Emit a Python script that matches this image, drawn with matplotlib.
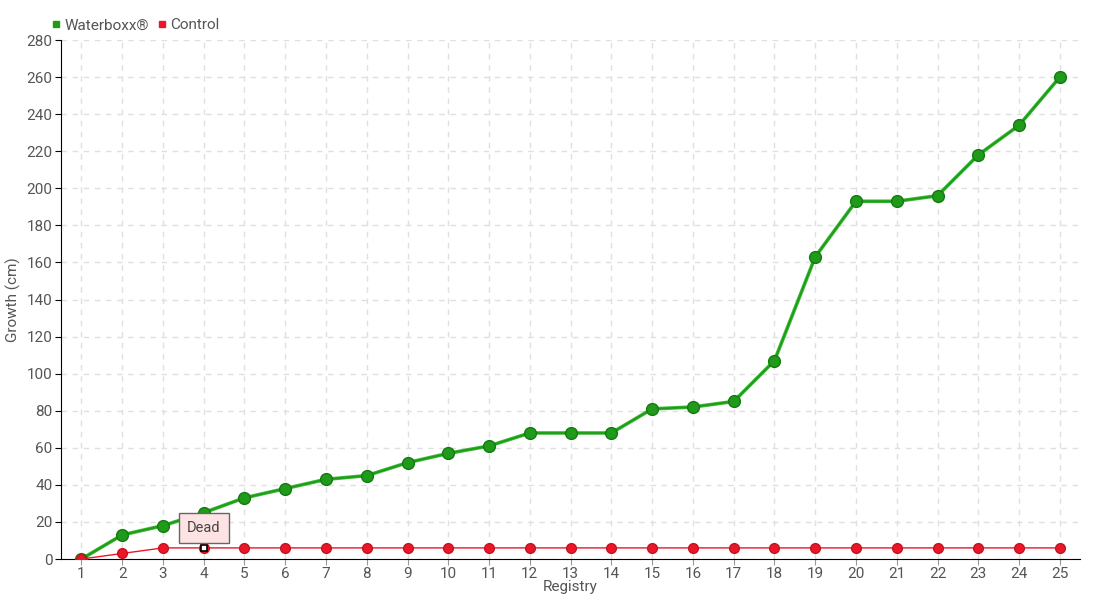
import numpy as np
import matplotlib.pyplot as plt
from matplotlib.lines import Line2D

plt.rcParams['font.family'] = ['Roboto', 'DejaVu Sans']

registry = list(range(1, 26))
waterboxx = [0, 13, 18, 25, 33, 38, 43, 45, 52, 57, 61, 68, 68, 68, 81, 82, 85,
             107, 163, 193, 193, 196, 218, 234, 260]
control = [0, 3, 6, 6, 6, 6, 6, 6, 6, 6, 6, 6, 6, 6, 6, 6, 6, 6, 6, 6, 6, 6, 6, 6, 6]
dead_at = 4

green = '#1e9c14'
red = '#e8182a'
txt = '#555555'

fig = plt.figure(figsize=(11, 6), dpi=100)
ax = fig.add_axes([0.0555, 0.0683, 0.9265, 0.865])

ax.plot(registry, waterboxx, color='#3cb83a', lw=2.6, zorder=3)
ax.plot(registry, waterboxx, color=green, lw=1.3, marker='o', ms=8.5,
        markerfacecolor='#1f9a1a', markeredgecolor='#137a10', markeredgewidth=1, zorder=4)
ax.plot(registry, control, color=red, lw=1, marker='o', ms=7,
        markerfacecolor=red, markeredgecolor='#c8101e', zorder=5)

# dead marker
i = registry.index(dead_at)
ax.plot(dead_at, control[i], marker='s', ms=4.5, markerfacecolor='white',
        markeredgecolor='black', markeredgewidth=1.2, zorder=6)
ax.annotate('Dead', xy=(dead_at, control[i]), xytext=(0, 14.5), textcoords='offset points',
            ha='center', va='center', fontsize=10.5, color='#444444',
            bbox=dict(boxstyle='square,pad=0.55', fc='#fde3e3', ec='#666666', lw=1),
            zorder=7)

ax.set_xlim(0.5, 25.5)
ax.set_ylim(0, 280)
ax.set_xticks(registry)
ax.set_yticks(np.arange(0, 281, 20))
ax.grid(True, color='#e0e0e0', linestyle=(0, (4, 4)), lw=1)
ax.set_axisbelow(True)
for s in ['top', 'right']:
    ax.spines[s].set_visible(False)
ax.spines['left'].set_color('black')
ax.spines['bottom'].set_color('black')
ax.tick_params(axis='both', colors=txt, labelsize=11, length=4, pad=2)
ax.tick_params(axis='x', color='#999999')
ax.tick_params(axis='y', color='black')
ax.set_xlabel('Registry', color=txt, fontsize=11, labelpad=-1)
ax.set_ylabel('Growth (cm)', color=txt, fontsize=11, labelpad=4)

handles = [Line2D([], [], ls='none', marker='s', ms=5, color=green),
           Line2D([], [], ls='none', marker='s', ms=5, color=red)]
ax.legend(handles, ['Waterboxx®', 'Control'], loc='lower left', bbox_to_anchor=(-0.018, 1.0),
          ncol=2, frameon=False, handletextpad=0.1, columnspacing=0.5, labelcolor=txt,
          fontsize=11, handlelength=0.8, borderaxespad=0.1)

fig.savefig('out.png', dpi=100)
